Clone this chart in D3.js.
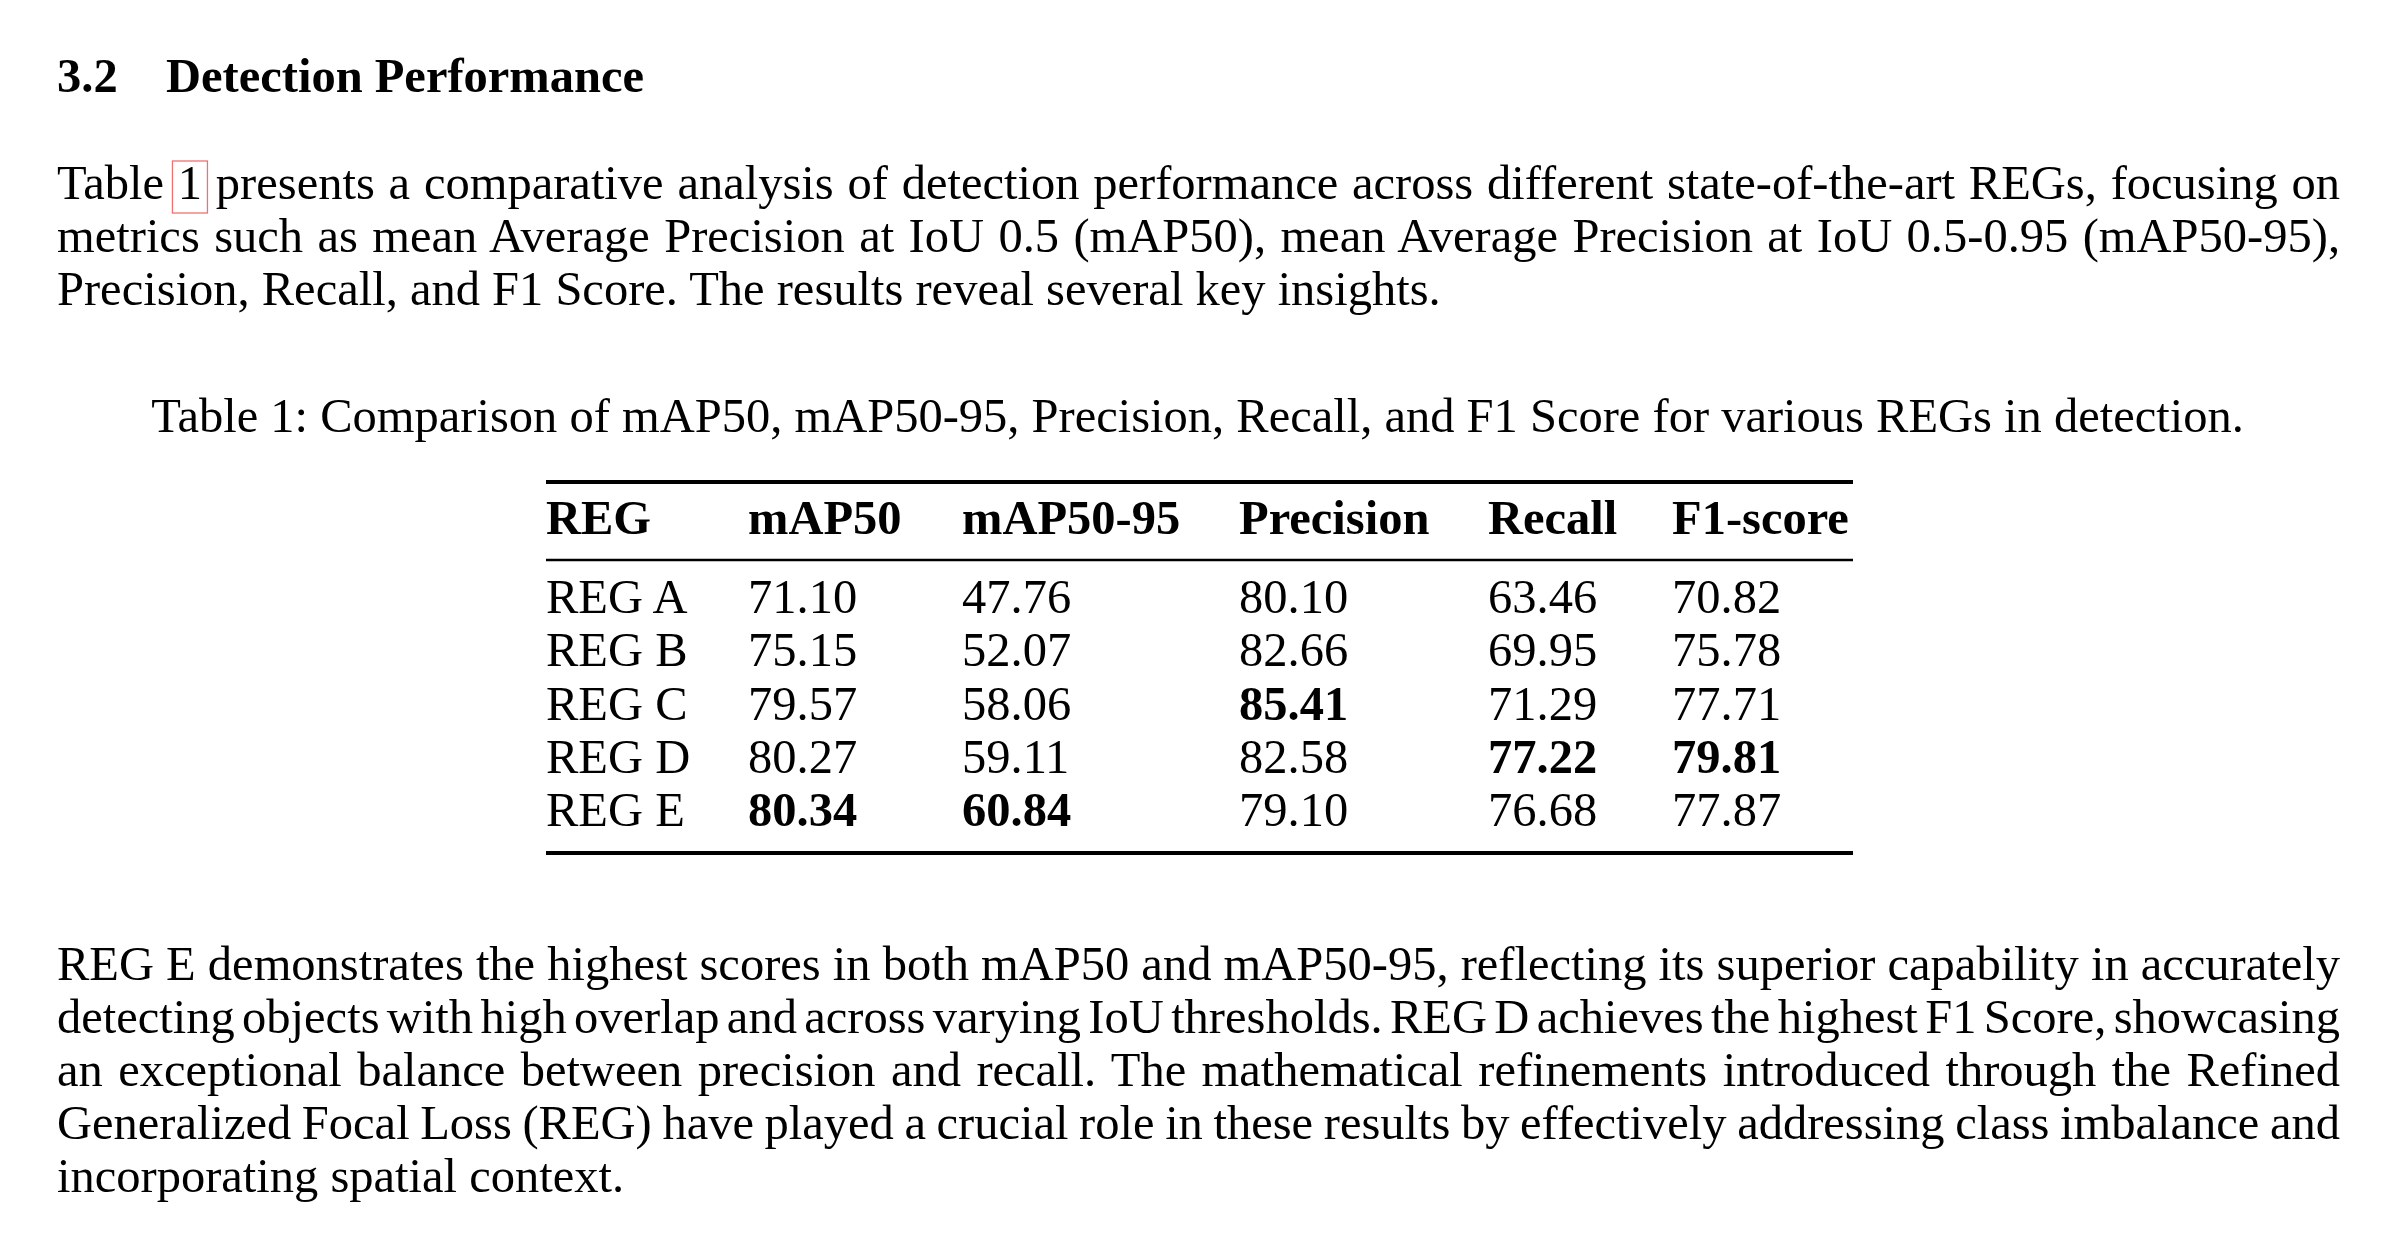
<!DOCTYPE html>
<html><head><meta charset="utf-8">
<script src="https://cdn.jsdelivr.net/npm/d3@7"></script>
<style>html,body{margin:0;padding:0;background:#fff;overflow:hidden}</style>
</head><body>
<script>
// ---- content ----
const headingNumber = "3.2";
const headingTitle = "Detection Performance";
const para1 = [
  "Table 1 presents a comparative analysis of detection performance across different state-of-the-art REGs, focusing on",
  "metrics such as mean Average Precision at IoU 0.5 (mAP50), mean Average Precision at IoU 0.5-0.95 (mAP50-95),",
  "Precision, Recall, and F1 Score. The results reveal several key insights."
];
const caption = "Table 1: Comparison of mAP50, mAP50-95, Precision, Recall, and F1 Score for various REGs in detection.";
const para2 = [
  "REG E demonstrates the highest scores in both mAP50 and mAP50-95, reflecting its superior capability in accurately",
  "detecting objects with high overlap and across varying IoU thresholds. REG D achieves the highest F1 Score, showcasing",
  "an exceptional balance between precision and recall. The mathematical refinements introduced through the Refined",
  "Generalized Focal Loss (REG) have played a crucial role in these results by effectively addressing class imbalance and",
  "incorporating spatial context."
];

// ---- table data ----
const columns = ["REG", "mAP50", "mAP50-95", "Precision", "Recall", "F1-score"];
const regs = ["REG A", "REG B", "REG C", "REG D", "REG E"];
const mAP50 = [71.10, 75.15, 79.57, 80.27, 80.34];
const mAP50_95 = [47.76, 52.07, 58.06, 59.11, 60.84];
const precision = [80.10, 82.66, 85.41, 82.58, 79.10];
const recall = [63.46, 69.95, 71.29, 77.22, 76.68];
const f1score = [70.82, 75.78, 77.71, 79.81, 77.87];

const seriesList = [mAP50, mAP50_95, precision, recall, f1score];

// ---- layout ----
const W = 2408, H = 1244;
const FONT = "'Liberation Serif','Times New Roman',Times,serif";
const FS = 48.5;
const LEFT = 57, RIGHT = 2340, LINE = 53;
const CENTER = 1197.5;

const svg = d3.select("body").append("svg")
  .attr("width", W).attr("height", H)
  .style("background", "#fff");

// heading
svg.append("text").attr("x", LEFT).attr("y", 92)
  .style("font-family", FONT).style("font-size", FS + "px").style("font-weight", "bold")
  .text(headingNumber);
svg.append("text").attr("x", 166).attr("y", 92)
  .style("font-family", FONT).style("font-size", FS + "px").style("font-weight", "bold")
  .text(headingTitle);

function drawPara(lines, y0) {
  const nodes = [];
  lines.forEach((line, i) => {
    const t = svg.append("text")
      .attr("x", LEFT).attr("y", y0 + i * LINE)
      .style("font-family", FONT).style("font-size", FS + "px")
      .attr("fill", "#000")
      .text(line);
    if (i < lines.length - 1) {
      const nat = t.node().getComputedTextLength();
      const spaces = (line.match(/ /g) || []).length;
      t.style("word-spacing", ((RIGHT - LEFT - nat) / spaces) + "px");
    }
    nodes.push(t);
  });
  return nodes;
}

const p1 = drawPara(para1, 199);
// link box around "1" in first line
{
  const n = p1[0].node();
  const ext = n.getExtentOfChar(6);
  const cx = ext.x + ext.width / 2;
  svg.append("rect")
    .attr("x", cx - 17.5).attr("y", 199 - 38)
    .attr("width", 35).attr("height", 52)
    .attr("fill", "none").attr("stroke", "#f07070").attr("stroke-width", 1.3);
}

// caption
svg.append("text").attr("x", CENTER).attr("y", 432)
  .attr("text-anchor", "middle")
  .style("font-family", FONT).style("font-size", FS + "px")
  .text(caption);

// table
const x = d3.scaleOrdinal().domain(columns).range([546, 748, 962, 1239, 1488, 1672]);
const y = d3.scalePoint().domain(regs).range([613, 826]);
const ruleL = 546, ruleR = 1853;

svg.append("line").attr("x1", ruleL).attr("x2", ruleR).attr("y1", 482).attr("y2", 482)
  .attr("stroke", "#000").attr("stroke-width", 3.8);
svg.append("line").attr("x1", ruleL).attr("x2", ruleR).attr("y1", 560).attr("y2", 560)
  .attr("stroke", "#000").attr("stroke-width", 2.4);
svg.append("line").attr("x1", ruleL).attr("x2", ruleR).attr("y1", 853).attr("y2", 853)
  .attr("stroke", "#000").attr("stroke-width", 3.8);

svg.append("g").selectAll("text").data(columns).join("text")
  .attr("x", d => x(d)).attr("y", 534)
  .style("font-family", FONT).style("font-size", FS + "px").style("font-weight", "bold")
  .text(d => d);

svg.append("g").selectAll("text").data(regs).join("text")
  .attr("x", x("REG")).attr("y", d => y(d))
  .style("font-family", FONT).style("font-size", FS + "px")
  .text(d => d);

const fmt = d3.format(".2f");
seriesList.forEach((vals, ci) => {
  const col = columns[ci + 1];
  const mx = d3.max(vals);
  svg.append("g").selectAll("text").data(vals).join("text")
    .attr("x", x(col)).attr("y", (d, i) => y(regs[i]))
    .style("font-family", FONT).style("font-size", FS + "px")
    .style("font-weight", d => d === mx ? "bold" : "normal")
    .text(d => fmt(d));
});

drawPara(para2, 980);
</script>
</body></html>
